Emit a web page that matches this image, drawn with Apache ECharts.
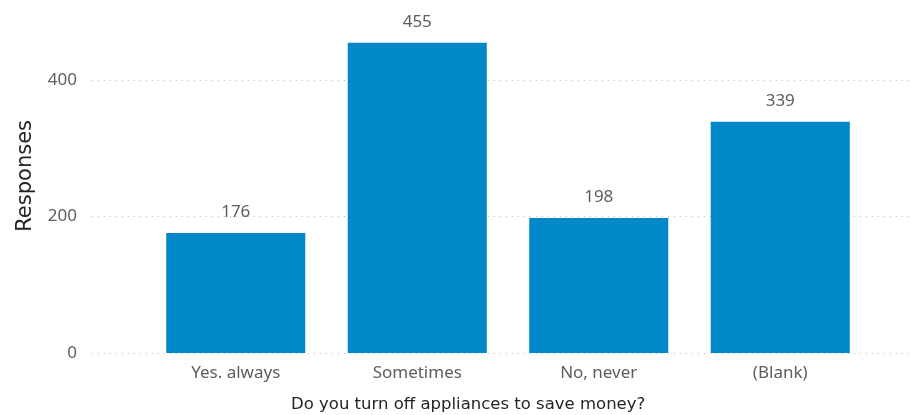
<!DOCTYPE html>
<html>
<head>
<meta charset="utf-8">
<script src="https://cdn.jsdelivr.net/npm/echarts@6/dist/echarts.min.js"></script>
<style>
  html, body { margin: 0; padding: 0; background: #fff; }
  #main { width: 918px; height: 415px; }
</style>
</head>
<body>
<div id="main"></div>
<script>
var categories = ['Yes. always', 'Sometimes', 'No, never', '(Blank)'];
var responses = [176, 455, 198, 339];
var yTicks = [0, 200, 400];

var dom = document.getElementById('main');
var myChart = echarts.init(dom, null, { renderer: 'canvas' });

var font = '"Noto Sans", "Open Sans", sans-serif';
var titleFont = '"DejaVu Sans", sans-serif';
var option = {
  animation: false,
  grid: [
    // wide grid only for y labels and dotted grid lines
    { left: 92, right: 6, top: 12, bottom: 62 },
    // narrower grid holding the bars
    { left: 145, right: 47, top: 12, bottom: 62 }
  ],
  xAxis: [
    { gridIndex: 0, type: 'value', show: false },
    {
      gridIndex: 1,
      type: 'category',
      data: categories,
      axisLine: { show: false },
      axisTick: { show: false },
      axisLabel: { color: '#605e5c', fontSize: 17, margin: 12, fontFamily: font }
    }
  ],
  yAxis: [
    {
      gridIndex: 0,
      type: 'value',
      min: 0,
      max: 500,
      interval: 200,
      axisLine: { show: false },
      axisTick: { show: false },
      axisLabel: {
        color: '#605e5c', fontSize: 17, margin: 15, fontFamily: font, showMaxLabel: false,
        formatter: function (v) { return yTicks.indexOf(v) >= 0 ? String(v) : ''; }
      },
      splitLine: {
        showMaxLine: false,
        lineStyle: { color: '#bebcba', type: [1, 5], width: 1 }
      }
    },
    { gridIndex: 1, type: 'value', min: 0, max: 500, show: false, splitLine: { show: false } }
  ],
  graphic: [
    {
      type: 'text', left: 15, top: 120, rotation: Math.PI / 2,
      style: { text: 'Responses', fill: '#252423', font: '21px ' + titleFont }
    },
    {
      type: 'text', left: 291, top: 396,
      style: { text: 'Do you turn off appliances to save money?', fill: '#252423', font: '16.5px ' + titleFont }
    }
  ],
  series: [
    {
      type: 'bar',
      xAxisIndex: 1,
      yAxisIndex: 1,
      data: responses,
      barWidth: '76.6%',
      itemStyle: { color: '#0088c8' },
      label: {
        show: true,
        position: 'top',
        distance: 12,
        color: '#605e5c',
        fontSize: 17,
        fontFamily: font
      }
    }
  ]
};
myChart.setOption(option);
</script>
</body>
</html>
